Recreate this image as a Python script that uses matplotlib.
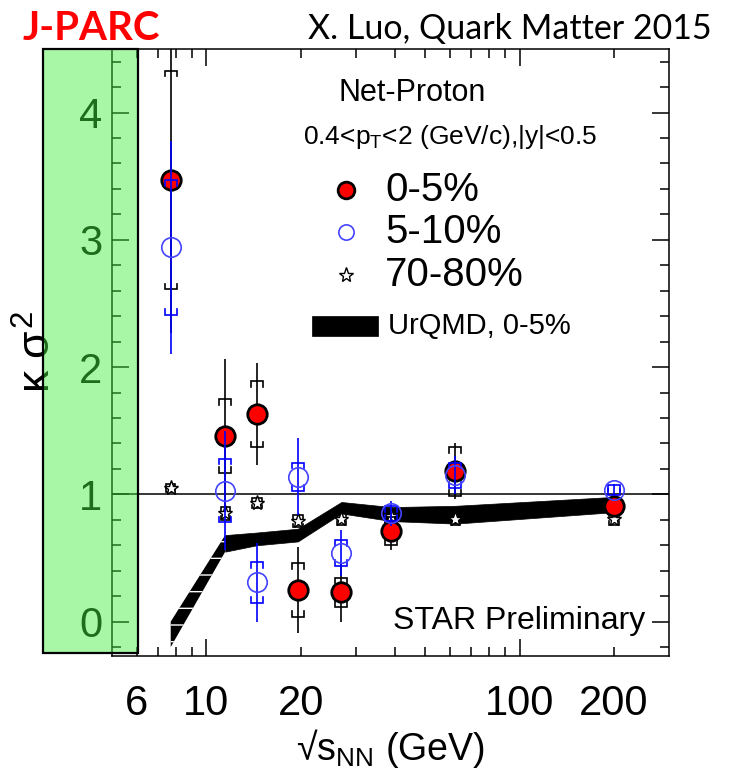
import matplotlib
matplotlib.use('Agg')
import matplotlib.pyplot as plt
from matplotlib.patches import Rectangle
from matplotlib.ticker import FixedLocator, FuncFormatter

plt.rcParams['font.family'] = ['Liberation Sans', 'DejaVu Sans']
plt.rcParams['mathtext.fontset'] = 'custom'
plt.rcParams['mathtext.rm'] = 'Liberation Sans'
plt.rcParams['mathtext.it'] = 'Liberation Sans'
plt.rcParams['mathtext.sf'] = 'Liberation Sans'

# beam energies (GeV)
energy = [7.7, 11.5, 14.5, 19.6, 27, 39, 62.4, 200]

# net-proton kappa*sigma^2, 0-5% central
c05 = [3.47, 1.46, 1.63, 0.25, 0.23, 0.71, 1.18, 0.91]
c05_stat = [1.20, 0.60, 0.40, 0.34, 0.23, 0.15, 0.22, 0.05]
c05_sys = [0.86, 0.29, 0.26, 0.21, 0.115, 0.11, 0.19, 0.05]

# 5-10%
c510 = [2.94, 1.03, 0.31, 1.14, 0.54, 0.85, 1.15, 1.035]
c510_stat = [0.84, 0.47, 0.31, 0.30, 0.18, 0.10, 0.15, 0.05]
c510_sys = [0.53, 0.25, 0.16, 0.11, 0.10, 0.06, 0.10, 0.04]

# 70-80% peripheral
c7080 = [1.05, 0.85, 0.93, 0.79, 0.81, 0.83, 0.81, 0.81]
c7080_stat = [0.02, 0.03, 0.03, 0.03, 0.03, 0.03, 0.03, 0.03]
c7080_sys = [0.03, 0.05, 0.04, 0.05, 0.05, 0.05, 0.05, 0.05]

# UrQMD 0-5% band
urqmd_lo = [-0.20, 0.55, 0.60, 0.63, 0.85, 0.79, 0.77, 0.86]
urqmd_hi = [0.00, 0.68, 0.70, 0.73, 0.94, 0.90, 0.91, 0.98]

xtick_major = [10, 100]
xtick_minor = [6, 7, 8, 9, 20, 30, 40, 50, 60, 70, 80, 90, 200]
xtick_labeled = [6, 10, 20, 100, 200]


def sys_brackets(ax, x, y, err, color, z, hw=1.045, leg=0.045):
    # systematic errors drawn as square brackets above and below the point
    for xi, yi, ei in zip(x, y, err):
        xl, xr = xi / hw, xi * hw
        top, bot = yi + ei, yi - ei
        ax.plot([xl, xl, xr, xr], [top - leg, top, top, top - leg],
                color=color, lw=1.2, zorder=z, solid_joinstyle='miter')
        ax.plot([xl, xl, xr, xr], [bot + leg, bot, bot, bot + leg],
                color=color, lw=1.2, zorder=z, solid_joinstyle='miter')


fig = plt.figure(figsize=(7.43, 7.71), dpi=100)
ax = fig.add_axes([0.1507, 0.1492, 0.7497, 0.7873])

# UrQMD band, the steep first piece shows white stripes
ax.fill_between(energy[:2], urqmd_lo[:2], urqmd_hi[:2], facecolor='black',
                edgecolor='white', hatch='-', linewidth=0, zorder=2)
ax.fill_between(energy[1:], urqmd_lo[1:], urqmd_hi[1:], facecolor='black',
                edgecolor='black', linewidth=0.5, zorder=2)

ax.axhline(1, color='black', lw=1.1, zorder=1)

# 70-80%
ax.errorbar(energy, c7080, yerr=c7080_stat, fmt='none', ecolor='black',
            elinewidth=1.0, zorder=3)
sys_brackets(ax, energy, c7080, c7080_sys, 'black', 3, hw=1.035, leg=0.03)
ax.plot(energy, c7080, ls='none', marker='*', ms=11, mfc='white', mec='black',
        mew=1.0, zorder=3)

# 0-5%
ax.errorbar(energy, c05, yerr=c05_stat, fmt='none', ecolor='black',
            elinewidth=1.2, zorder=4)
sys_brackets(ax, energy, c05, c05_sys, 'black', 4)
ax.plot(energy, c05, ls='none', marker='o', ms=14, mfc='red', mec='black',
        mew=2.0, zorder=5)

# 5-10%
ax.errorbar(energy, c510, yerr=c510_stat, fmt='none', ecolor='blue',
            elinewidth=1.2, zorder=6)
sys_brackets(ax, energy, c510, c510_sys, 'blue', 6)
ax.plot(energy, c510, ls='none', marker='o', ms=14, mfc='none', mec='#4444ff',
        mew=1.2, zorder=7)

ax.set_xscale('log')
ax.set_xlim(5, 300)
ax.set_ylim(-0.27, 4.5)

ax.xaxis.set_major_locator(FixedLocator(xtick_major))
ax.xaxis.set_minor_locator(FixedLocator(xtick_minor))
lab = FuncFormatter(lambda v, p: '%g' % v if round(v) in xtick_labeled else '')
ax.xaxis.set_major_formatter(lab)
ax.xaxis.set_minor_formatter(lab)
ax.yaxis.set_major_locator(FixedLocator([0, 1, 2, 3, 4]))
ax.yaxis.set_minor_locator(FixedLocator([-0.2, 0.2, 0.4, 0.6, 0.8, 1.2, 1.4, 1.6,
                                         1.8, 2.2, 2.4, 2.6, 2.8, 3.2, 3.4, 3.6,
                                         3.8, 4.2, 4.4]))

ax.tick_params(which='both', direction='in', top=True, right=True, width=1.1,
               labelsize=30)
ax.tick_params(which='major', length=12)
ax.tick_params(which='minor', length=6.5)
ax.tick_params(axis='x', which='both', pad=20)
ax.tick_params(axis='y', which='both', pad=7)
for s in ax.spines.values():
    s.set_linewidth(1.1)

ax.set_xlabel('√' + r'$\mathrm{s}_{\mathrm{NN}}$' + ' (GeV)', fontsize=27,
              labelpad=2)
ax.set_ylabel(r'$\kappa\ \sigma^2$', fontsize=32)
ax.yaxis.set_label_coords(-0.094, 0.5)

# legend block, drawn by hand
T = ax.transAxes
ax.text(0.539, 0.9275, 'Net-Proton', transform=T, ha='center', va='center',
        fontsize=22)
ax.text(0.607, 0.855, r'0.4<p$_{\mathrm{T}}$<2 (GeV/c),|y|<0.5', transform=T,
        ha='center', va='center', fontsize=19)
ax.plot([0.42], [0.768], transform=T, marker='o', ms=12, mfc='red', mec='black',
        mew=2.0, ls='none')
ax.plot([0.42], [0.698], transform=T, marker='o', ms=11, mfc='none',
        mec='#4444ff', mew=1.2, ls='none')
ax.plot([0.42], [0.628], transform=T, marker='*', ms=11, mfc='none',
        mec='black', mew=1.0, ls='none')
for yy, txt in zip([0.768, 0.698, 0.628], ['0-5%', '5-10%', '70-80%']):
    ax.text(0.49, yy, txt, transform=T, ha='left', va='center', fontsize=29)
ax.add_patch(Rectangle((0.359, 0.527), 0.119, 0.033, transform=T,
                       facecolor='black', edgecolor='black', lw=0.5))
ax.text(0.4955, 0.544, 'UrQMD, 0-5%', transform=T, ha='left', va='center',
        fontsize=21)
ax.text(0.5045, 0.058, 'STAR Preliminary', transform=T, ha='left',
        va='center', fontsize=23)

# header
fig.text(0.03, 0.963, 'J-PARC', color='red', fontsize=29, fontweight='bold',
         family=['Lato', 'DejaVu Sans'], ha='left', va='center')
fig.text(0.958, 0.963, 'X. Luo, Quark Matter 2015', color='black', fontsize=24.5,
         family=['Lato', 'DejaVu Sans'], ha='right', va='center')

# translucent green panel over the y axis
fig.add_artist(Rectangle((0.0575, 0.153), 0.1282, 0.7834, transform=fig.transFigure,
                         facecolor=(65 / 255, 239 / 255, 65 / 255, 0.46),
                         edgecolor='black', lw=1.6, zorder=10))

fig.savefig('out.png', dpi=100)
